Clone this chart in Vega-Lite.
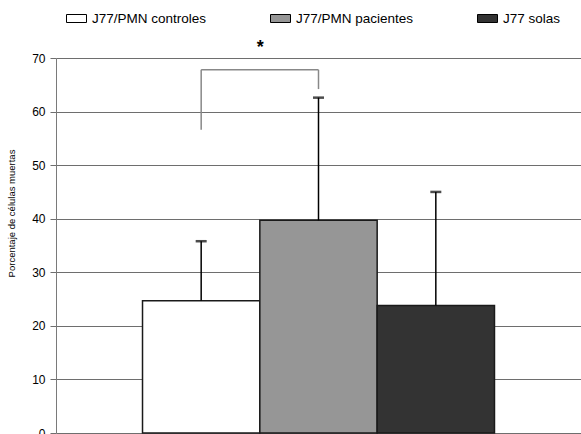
{
  "$schema": "https://vega.github.io/schema/vega-lite/v6.json",
  "width": 525,
  "height": 375,
  "autosize": "none",
  "padding": {"left": 56, "top": 58, "right": 0, "bottom": 1},
  "config": {
    "font": "Liberation Sans",
    "view": {"stroke": null},
    "axis": {"labelFont": "Liberation Sans", "titleFont": "Liberation Sans"},
    "legend": {"labelFont": "Liberation Sans"}
  },
  "datasets": {
    "bars": [
      {"grupo": "J77/PMN controles", "valor": 24.7, "sup": 35.8},
      {"grupo": "J77/PMN pacientes", "valor": 39.7, "sup": 62.6},
      {"grupo": "J77 solas", "valor": 23.8, "sup": 45.0}
    ],
    "bracket": [
      {"g1": "J77/PMN controles", "g2": "J77/PMN controles", "y1": 56.6, "y2": 67.8},
      {"g1": "J77/PMN controles", "g2": "J77/PMN pacientes", "y1": 67.8, "y2": 67.8},
      {"g1": "J77/PMN pacientes", "g2": "J77/PMN pacientes", "y1": 67.8, "y2": 64.2}
    ],
    "star": [
      {"g": "J77/PMN controles", "y": 72.6, "label": "*"}
    ]
  },
  "layer": [
    {
      "data": {"name": "bars"},
      "mark": {"type": "bar", "stroke": "#1a1a1a", "strokeWidth": 1.5},
      "encoding": {
        "x": {
          "field": "grupo", "type": "nominal", "axis": null,
          "scale": {"domain": ["J77/PMN controles", "J77/PMN pacientes", "J77 solas"], "paddingInner": 0, "paddingOuter": 0.7374}
        },
        "y": {
          "field": "valor", "type": "quantitative",
          "scale": {"domain": [0, 70], "nice": false},
          "axis": {
            "title": "Porcentaje de células muertas",
            "values": [0, 10, 20, 30, 40, 50, 60, 70],
            "grid": true, "gridColor": "#6e6e6e", "gridWidth": 1,
            "domainColor": "#7a7a7a", "tickColor": "#6e6e6e", "tickSize": 6,
            "labelFontSize": 12, "labelColor": "#000", "labelPadding": 5,
            "titleFontSize": 9.5, "titleFontWeight": "normal", "titleColor": "#000",
            "titleX": -45, "titleY": 155, "titleAngle": 270, "titleAlign": "center", "titleBaseline": "middle"
          }
        },
        "color": {
          "field": "grupo", "type": "nominal",
          "scale": {"domain": ["J77/PMN controles", "J77/PMN pacientes", "J77 solas"], "range": ["#ffffff", "#969696", "#333333"]},
          "legend": {
            "title": null, "orient": "none", "direction": "horizontal",
            "legendX": 10, "legendY": -50, "padding": 0,
            "columnPadding": 61,
            "symbolType": "M-1,-0.4H1V0.4H-1Z", "symbolSize": 400,
            "symbolStrokeColor": "#000", "symbolStrokeWidth": 1,
            "labelFontSize": 13.5, "labelOffset": 5, "labelColor": "#000"
          }
        }
      }
    },
    {
      "data": {"name": "bars"},
      "mark": {"type": "rule", "color": "#000", "strokeWidth": 1.5},
      "encoding": {
        "x": {"field": "grupo", "type": "nominal"},
        "y": {"field": "valor", "type": "quantitative"},
        "y2": {"field": "sup"}
      }
    },
    {
      "data": {"name": "bars"},
      "mark": {"type": "tick", "color": "#000", "size": 11, "thickness": 2.5},
      "encoding": {
        "x": {"field": "grupo", "type": "nominal"},
        "y": {"field": "sup", "type": "quantitative"}
      }
    },
    {
      "data": {"name": "bracket"},
      "mark": {"type": "rule", "color": "#888888", "strokeWidth": 1.5},
      "encoding": {
        "x": {"field": "g1", "type": "nominal"},
        "x2": {"field": "g2"},
        "y": {"field": "y1", "type": "quantitative"},
        "y2": {"field": "y2"}
      }
    },
    {
      "data": {"name": "star"},
      "mark": {"type": "text", "fontSize": 18, "fontWeight": "bold", "dx": 59, "dy": 4, "color": "#000"},
      "encoding": {
        "x": {"field": "g", "type": "nominal"},
        "y": {"field": "y", "type": "quantitative"},
        "text": {"field": "label"}
      }
    }
  ]
}
